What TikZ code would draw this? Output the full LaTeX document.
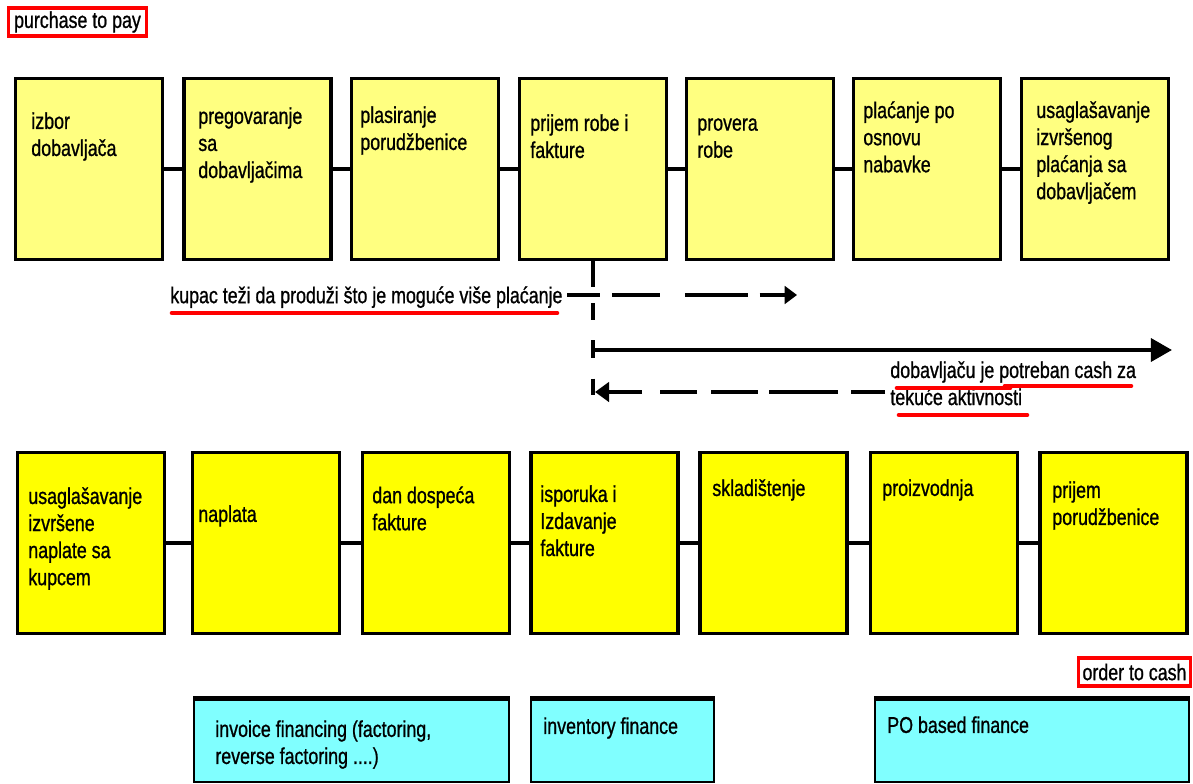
\documentclass[tikz,border=0pt]{standalone}
\usepackage{fontspec}
\setmainfont{Liberation Sans}[FakeStretch=0.78, FakeBold=0.9]
\usetikzlibrary{arrows.meta}

\definecolor{paleyellow}{RGB}{255,255,128}
\definecolor{fullyellow}{RGB}{255,255,0}
\definecolor{finecyan}{RGB}{128,255,255}
\definecolor{tagred}{RGB}{255,0,0}

\tikzset{
  paybox/.style={draw, fill=paleyellow, line width=2.2pt, inner sep=0pt,
    minimum width=2.94cm, minimum height=3.62cm},
  cashbox/.style={paybox, fill=fullyellow},
  finbox/.style={draw, fill=finecyan, line width=1.1pt, inner sep=0pt,
    minimum height=1.66cm},
  tag/.style={draw=tagred, line width=2.1pt, inner sep=0pt, minimum height=0.56cm},
  txt/.style={align=left, inner sep=0pt, anchor=north west},
  link/.style={line width=2.2pt},
  redline/.style={tagred, line width=2.6pt, line cap=round},
}

\begin{document}
\begin{tikzpicture}[x=0.02cm, y=-0.02cm, font=\fontsize{13}{15.4}\selectfont]
  \useasboundingbox (0,0) rectangle (1193,784);

  \node[tag, minimum width=2.76cm] (ptp) at (77.5,22) {purchase to pay};
  \node[tag, minimum width=2.24cm] (otc) at (1134.5,672) {order to cash};

  %------ purchase to pay
  \node[paybox] (p1) at (89,169) {};
  \node[paybox] (p2) at (257.5,169) {};
  \node[paybox] (p3) at (425,169) {};
  \node[paybox] (p4) at (593,169) {};
  \node[paybox] (p5) at (760,169) {};
  \node[paybox] (p6) at (927,169) {};
  \node[paybox] (p7) at (1095,169) {};

  \draw[link] (p1) -- (p2);
  \draw[link] (p2) -- (p3);
  \draw[link] (p3) -- (p4);
  \draw[link] (p4) -- (p5);
  \draw[link] (p5) -- (p6);
  \draw[link] (p6) -- (p7);

  \node[txt] (p1t) at (31,112) {izbor\\dobavljača};
  \node[txt] (p2t) at (198,107) {pregovaranje\\sa\\dobavljačima};
  \node[txt] (p3t) at (360,106) {plasiranje\\porudžbenice};
  \node[txt] (p4t) at (530,114) {prijem robe i\\fakture};
  \node[txt] (p5t) at (697,118) {provera\\robe};
  \node[txt] (p6t) at (863,101) {plaćanje po\\osnovu\\nabavke};
  \node[txt] (p7t) at (1036,101) {usaglašavanje\\izvršenog\\plaćanja sa\\dobavljačem};

  %------ payment terms
  \coordinate (vbot) at (593,395);
  \draw[line width=2.2pt, dash pattern=on 14.8pt off 9.1pt on 9.7pt off 11.4pt on 9.7pt off 12pt on 9.7pt]
    (p4.south) -- (vbot);

  \node[txt] (buyer) at (170,286) {kupac teži da produži što je moguće više plaćanje};
  \draw[redline] (172,313) -- (557,313);
  \coordinate (bs) at (567,295);
  \coordinate (be) at (797,295);
  \draw[line width=2.3pt, dash pattern=on 18.8pt off 6.8pt on 27.3pt off 14.2pt on 35.8pt off 6.8pt on 40pt,
    -{Triangle[length=7pt,width=10pt]}] (bs) -- (be);

  \coordinate (ss) at (593,350);
  \coordinate (se) at (1172,350);
  \draw[line width=2.3pt, -{Triangle[length=12pt,width=13pt]}] (ss) -- (se);

  \node[txt] (seller) at (890,361) {dobavljaču je potreban cash za\\tekuće aktivnosti};
  \draw[redline] (897,388) -- (1010,388);
  \draw[redline] (1005,386) -- (1131,386);
  \draw[redline] (899,415) -- (1027,415);
  \coordinate (ls) at (885,392);
  \coordinate (le) at (595,392);
  \draw[line width=2.3pt, dash pattern=on 19.3pt off 7.4pt on 39.3pt off 6.3pt on 26.7pt off 8pt on 21pt off 10.2pt on 40pt,
    -{Triangle[length=8pt,width=11pt]}] (ls) -- (le);

  %------ order to cash
  \node[cashbox] (o1) at (91,543) {};
  \node[cashbox] (o2) at (266,543) {};
  \node[cashbox] (o3) at (436,543) {};
  \node[cashbox] (o4) at (604.5,543) {};
  \node[cashbox] (o5) at (773.5,543) {};
  \node[cashbox] (o6) at (944,543) {};
  \node[cashbox] (o7) at (1113.5,543) {};

  \draw[link] (o1) -- (o2);
  \draw[link] (o2) -- (o3);
  \draw[link] (o3) -- (o4);
  \draw[link] (o4) -- (o5);
  \draw[link] (o5) -- (o6);
  \draw[link] (o6) -- (o7);

  \node[txt] (o1t) at (28,487) {usaglašavanje\\izvršene\\naplate sa\\kupcem};
  \node[txt] (o2t) at (198,505) {naplata};
  \node[txt] (o3t) at (372,486) {dan dospeća\\fakture};
  \node[txt] (o4t) at (540,485) {isporuka i\\Izdavanje\\fakture};
  \node[txt] (o5t) at (712,479) {skladištenje};
  \node[txt] (o6t) at (882,479) {proizvodnja};
  \node[txt] (o7t) at (1052,481) {prijem\\porudžbenice};

  %------ financing
  \node[finbox, minimum width=6.3cm] (c1) at (351.5,740.5) {};
  \node[finbox, minimum width=3.66cm] (c2) at (622.5,740.5) {};
  \node[finbox, minimum width=6.28cm] (c3) at (1032,740.5) {};
  \draw[line width=2.8pt] (c1.north west) -- (c1.north east);
  \draw[line width=2.8pt] (c2.north west) -- (c2.north east);
  \draw[line width=2.8pt] (c3.north west) -- (c3.north east);

  \node[txt] (c1t) at (215,720) {invoice financing (factoring,\\reverse factoring ....)};
  \node[txt] (c2t) at (543,717) {inventory finance};
  \node[txt] (c3t) at (887,716) {PO based finance};

\end{tikzpicture}
\end{document}
